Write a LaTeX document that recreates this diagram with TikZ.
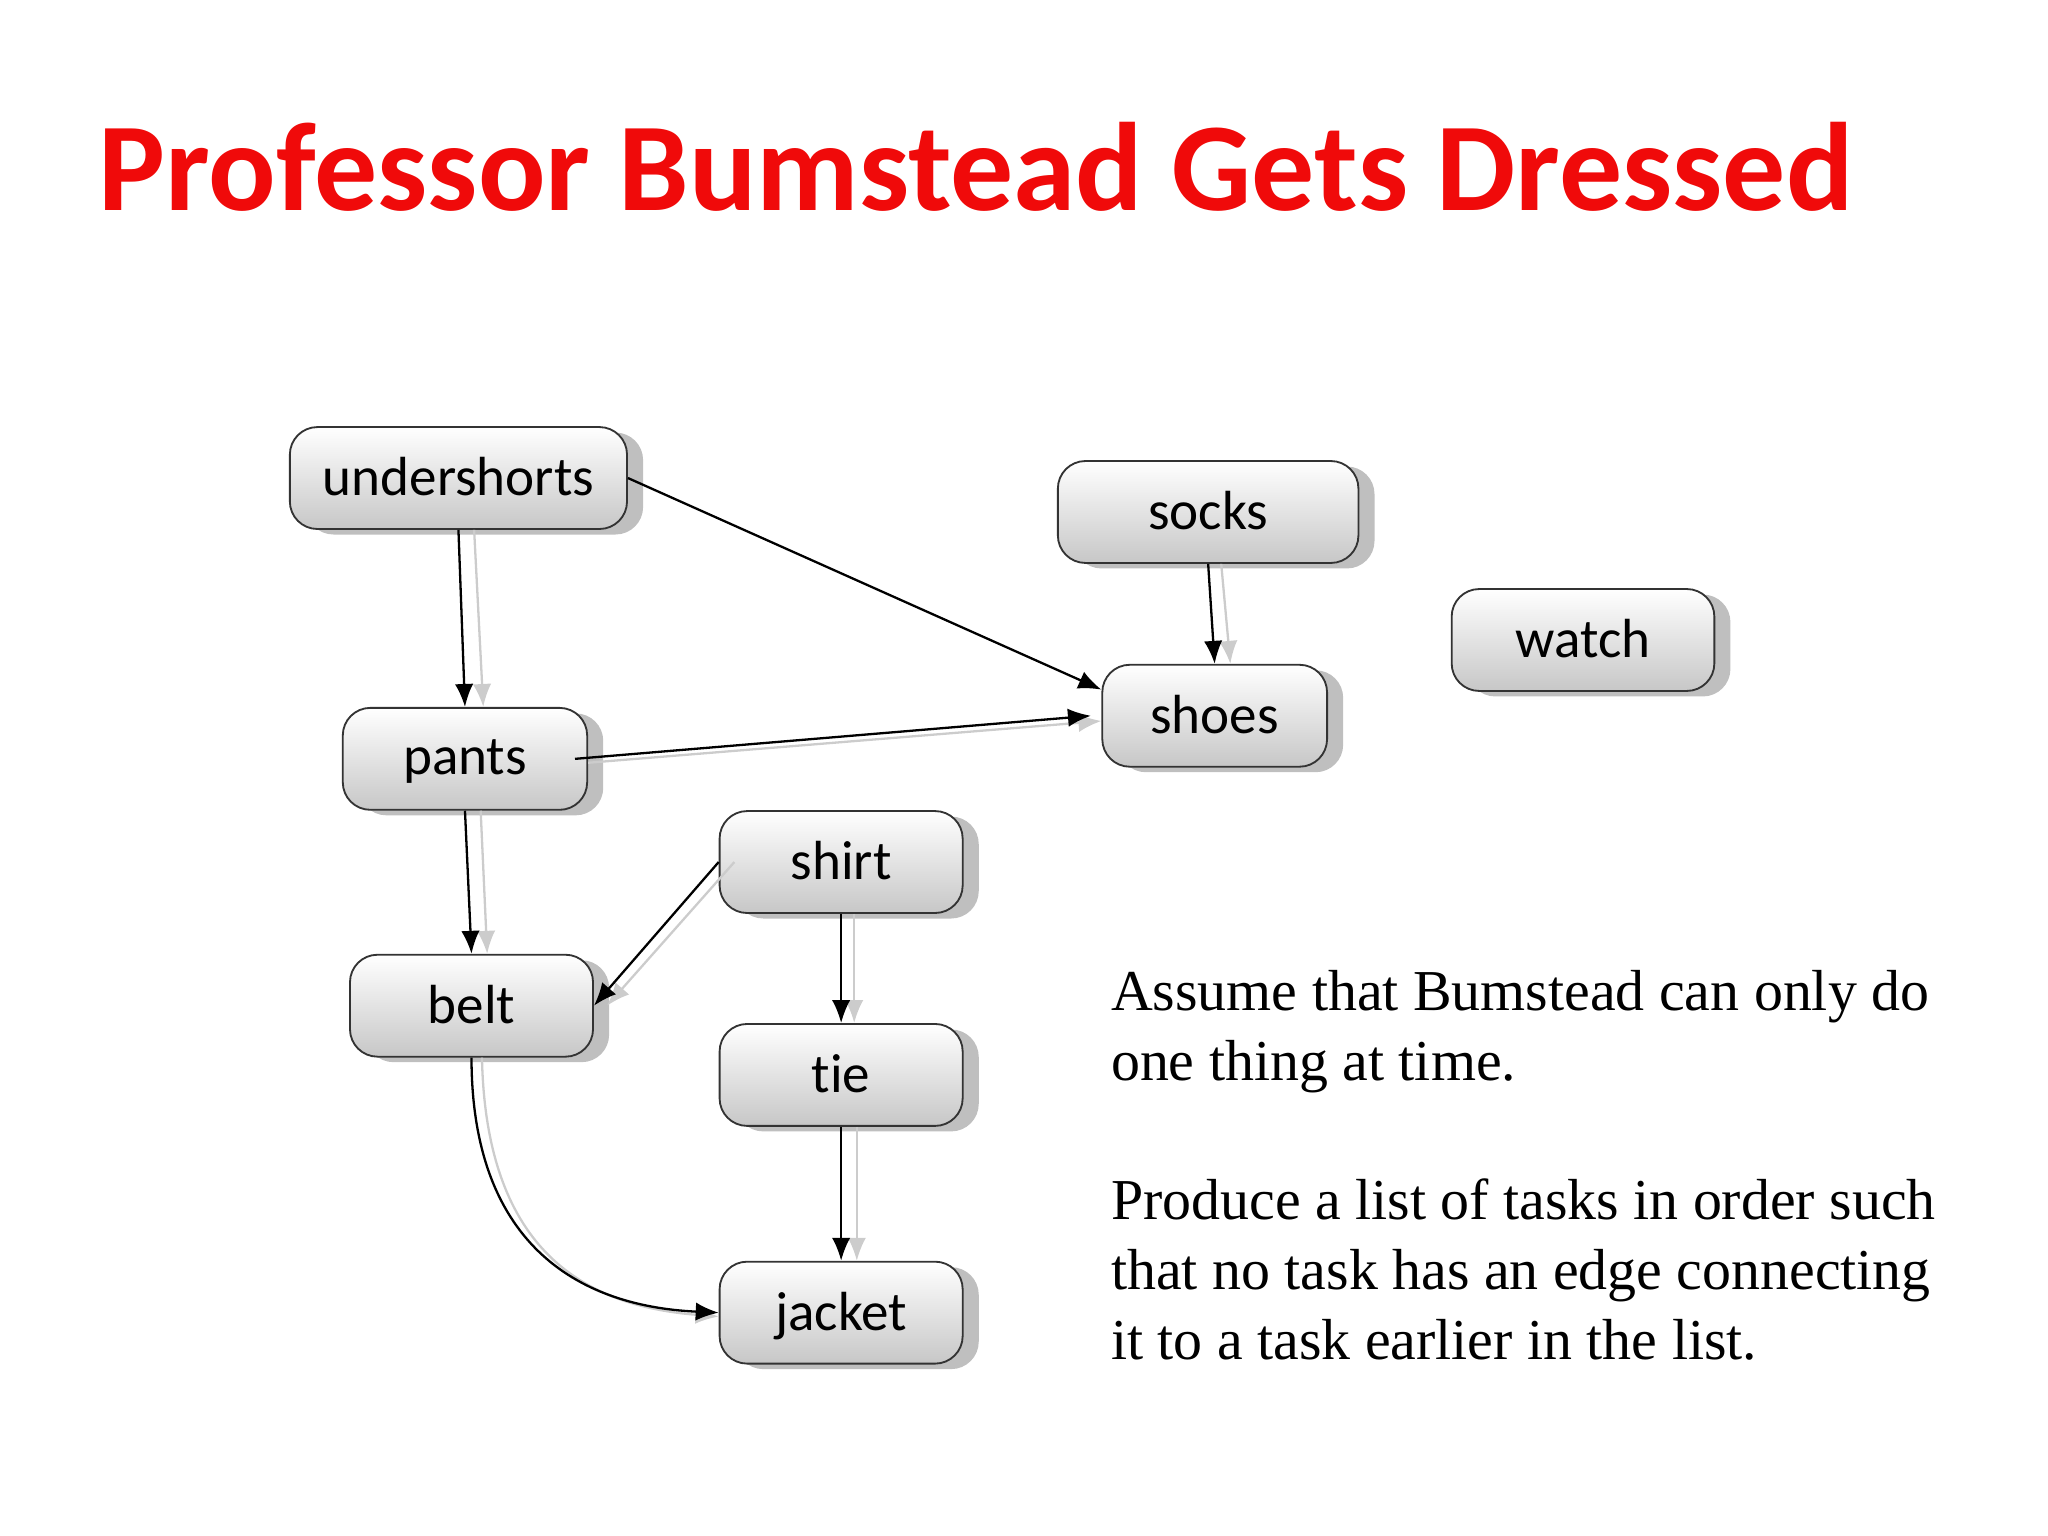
\documentclass[tikz,border=0pt]{standalone}
\usepackage{fontspec}
\setmainfont[Ligatures=NoCommon]{Carlito}
\newfontfamily\bodyfont{Liberation Serif}
\usetikzlibrary{shadows,arrows.meta}
\definecolor{titlered}{RGB}{240,10,10}
\begin{document}
\begin{tikzpicture}[x=0.01cm,y=-0.01cm,
  task/.style={draw=black!80,rounded corners=6pt,top color=white,bottom color=black!22,
    minimum height=0.78cm,font=\fontsize{12}{14}\selectfont,text depth=0.02cm,
    drop shadow={shadow xshift=3.5pt,shadow yshift=-1.2pt,fill=black!25,opacity=1}},
  edge/.style={-{Latex[length=5pt,width=4pt]},black,line width=0.5pt},
  ghost/.style={-{Latex[length=5pt,width=4pt]},black!20,line width=0.5pt}]
\useasboundingbox (0,0) rectangle (1568,1176);
\node[anchor=west,inner sep=0pt,text=titlered,font=\fontsize{27.4}{32}\bfseries\selectfont] (title) at (75,128) {Professor Bumstead Gets Dressed};
\node[task,minimum width=2.58cm] (under) at (351,366) {undershorts};
\node[task,minimum width=2.30cm] (socks) at (925,392) {socks};
\node[task,minimum width=2.01cm] (watch) at (1212,490) {watch};
\node[task,minimum width=1.72cm] (shoes) at (930,548) {shoes};
\node[task,minimum width=1.87cm] (pants) at (356,581) {pants};
\node[task,minimum width=1.86cm] (shirt) at (644,660) {shirt};
\node[task,minimum width=1.86cm] (belt) at (361,770) {belt};
\node[task,minimum width=1.86cm] (tie) at (644,823) {tie};
\node[task,minimum width=1.86cm] (jacket) at (644,1005) {jacket};
% ghost edges
\draw[ghost] ([xshift=0.12cm]under.south) -- ([xshift=0.14cm]pants.north);
\draw[ghost] ([xshift=0.1cm]socks.south) -- ([xshift=0.12cm]shoes.north);
\draw[ghost] ([yshift=-0.03cm]pants.east) -- ([yshift=-0.04cm]shoes.west);
\draw[ghost] ([xshift=0.12cm]pants.south) -- ([xshift=0.12cm]belt.north);
\draw[ghost] ([xshift=0.12cm]shirt.west) -- ([xshift=0.1cm]belt.east);
\draw[ghost] ([xshift=0.1cm]shirt.south) -- ([xshift=0.1cm]tie.north);
\draw[ghost] ([xshift=0.12cm]tie.south) -- ([xshift=0.12cm]jacket.north);
\draw[ghost] ([xshift=0.08cm]belt.south) .. controls (372,960) and (450,1000) .. ([yshift=-0.03cm]jacket.west);
% edges
\draw[edge] (under.east) -- ([yshift=0.2cm]shoes.west);
\draw[edge] (under.south) -- (pants.north);
\draw[edge] (socks.south) -- (shoes.north);
\draw[edge] ([xshift=-0.1cm]pants.east) -- ([xshift=-0.08cm]shoes.west);
\draw[edge] (pants.south) -- (belt.north);
\draw[edge] (shirt.west) -- (belt.east);
\draw[edge] (shirt.south) -- (tie.north);
\draw[edge] (tie.south) -- (jacket.north);
\draw[edge] (belt.south) .. controls (361,950) and (440,1000) .. (jacket.west);
\node[anchor=north west,align=left,inner sep=0pt,
  font=\bodyfont\fontsize{12.6}{15.2}\selectfont] (txt) at (850,742)
  {Assume that Bumstead can only do\\ one thing at time.\\[15.2pt]
   Produce a list of tasks in order such\\ that no task has an edge connecting\\ it to a task earlier in the list.};
\end{tikzpicture}
\end{document}
